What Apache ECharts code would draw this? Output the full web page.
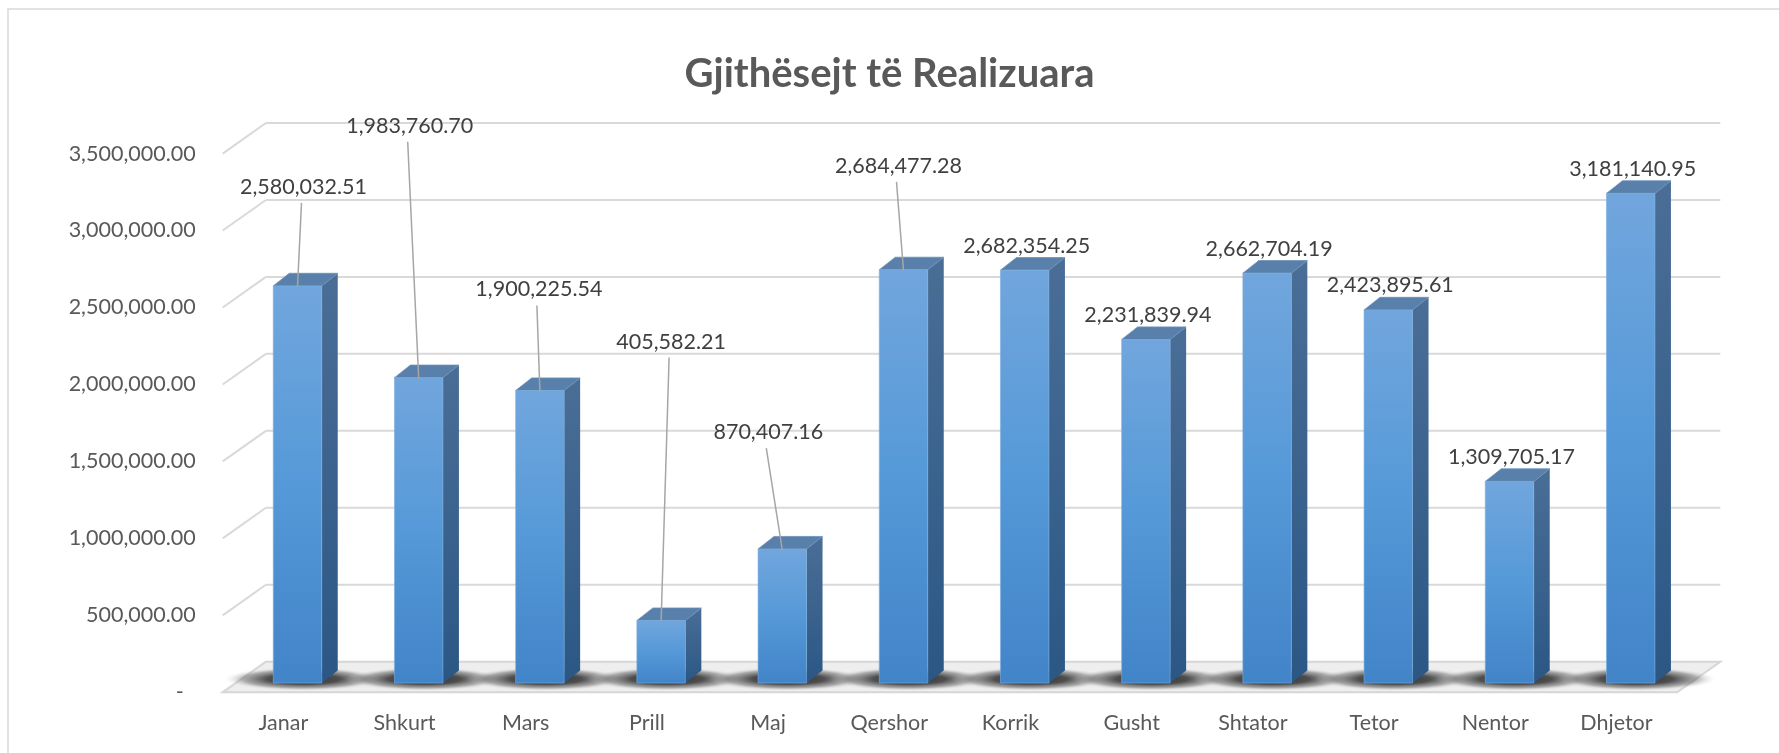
<!DOCTYPE html>
<html>
<head>
<meta charset="utf-8">
<title>Gjithësejt të Realizuara</title>
<script src="https://cdn.jsdelivr.net/npm/echarts@6/dist/echarts.min.js"></script>
<style>
html,body{margin:0;padding:0;background:#fff;}
#main{width:1779px;height:753px;}
</style>
</head>
<body>
<div id="main"></div>
<script>
// muajt
var months = ['Janar','Shkurt','Mars','Prill','Maj','Qershor','Korrik','Gusht','Shtator','Tetor','Nentor','Dhjetor'];
// vlerat e realizuara
var values = [2580032.51,1983760.70,1900225.54,405582.21,870407.16,2684477.28,2682354.25,2231839.94,2662704.19,2423895.61,1309705.17,3181140.95];
// vlerat e vijave te boshtit y
var yTicks = [0,500000,1000000,1500000,2000000,2500000,3000000,3500000];

// zhvendosja e etiketes nga maja e kolones (px), kur ka vije udhezuese
var labelShift = [[6,-99],[-9,-252],[-1,-101],[10,-279],[-14,-117],[-5,-104],null,null,null,null,null,null];
var labelDefault = [2,-24.5];

var backOff = [29,-21.3];   // muri i pasem
var frontOff = [-14.2,9.3]; // buza e para e dyshemese
var depth = [16,-12.6];     // thellesia e kolones

var FONT = 'Lato, "Open Sans", sans-serif';
var FS = 21.5;

function fmt(v){
    return v.toLocaleString('en-US',{minimumFractionDigits:2,maximumFractionDigits:2});
}

// dyshemeja, muret dhe hijet
function renderFloor(params, api){
    var cs = params.coordSys;
    var x0 = cs.x, x1 = cs.x + cs.width;
    var y0 = api.coord([0,0])[1];
    var ch = [];
    ch.push({
        type:'polygon',
        shape:{points:[
            [x0+frontOff[0], y0+frontOff[1]],
            [x1+frontOff[0], y0+frontOff[1]],
            [x1+backOff[0], y0+backOff[1]],
            [x0+backOff[0], y0+backOff[1]]
        ]},
        style:{fill:'#eeeeee', stroke:'#d6d6d6', lineWidth:2}
    });
    yTicks.forEach(function(t){
        var y = api.coord([0,t])[1];
        if(t>0){
            ch.push({type:'line', shape:{x1:x0+backOff[0], y1:y+backOff[1], x2:x1+backOff[0], y2:y+backOff[1]},
                style:{stroke:'#d9d9d9', lineWidth:2}});
        }
        ch.push({type:'line', shape:{x1:x0+frontOff[0], y1:y+frontOff[1], x2:x0+backOff[0], y2:y+backOff[1]},
            style:{stroke:'#d9d9d9', lineWidth:2}});
    });
    // hijet nen kolona
    for(var i=0;i<values.length;i++){
        var cx = api.coord([i,0])[0];
        ch.push({
            type:'circle',
            x: cx+6, y: y0-4, scaleX:1, scaleY:0.15,
            shape:{cx:0, cy:0, r:80},
            style:{fill:{type:'radial', x:0.5, y:0.5, r:0.5, colorStops:[
                {offset:0, color:'rgba(35,35,35,0.95)'},
                {offset:0.45, color:'rgba(50,50,50,0.85)'},
                {offset:0.75, color:'rgba(90,90,90,0.45)'},
                {offset:1, color:'rgba(238,238,238,0)'}
            ]}}
        });
    }
    return {type:'group', children:ch};
}

// kolonat 3D me etiketat
function renderBar(params, api){
    var i = api.value(0), v = api.value(1);
    var b = api.coord([i,0]), t = api.coord([i,v]);
    var hw = api.size([1,0])[0]*0.2;
    var L = b[0]-hw, R = b[0]+hw, yb = b[1], yt = t[1];
    var dx = depth[0], dy = depth[1];
    var ch = [];
    ch.push({type:'polygon', shape:{points:[[R,yt],[R+dx,yt+dy],[R+dx,yb+dy],[R,yb]]},
        style:{fill:{type:'linear',x:0,y:0,x2:0,y2:1,colorStops:[{offset:0,color:'#4a6e96'},{offset:1,color:'#2b5785'}]}}});
    ch.push({type:'polygon', shape:{points:[[L,yt],[L+dx,yt+dy],[R+dx,yt+dy],[R,yt]]},
        style:{fill:'#5880ab', stroke:'#6a8fb8', lineWidth:0.8}});
    ch.push({type:'rect', shape:{x:L, y:yt, width:R-L, height:yb-yt},
        style:{fill:{type:'linear',x:0,y:0,x2:0,y2:1,colorStops:[{offset:0,color:'#71a6dd'},{offset:0.5,color:'#5599d8'},{offset:1,color:'#4284c8'}]},
            stroke:'#7aaee0', lineWidth:0.6}});
    var s = labelShift[i] || labelDefault;
    var lx = b[0]+s[0], ly = yt+s[1];
    if(labelShift[i]){
        ch.push({type:'line', shape:{x1:lx-2, y1:ly+16, x2:b[0], y2:yt+1},
            style:{stroke:'#a6a6a6', lineWidth:1.5}});
    }
    ch.push({type:'text', x:lx, y:ly,
        style:{text:fmt(v), fill:'#404040', fontSize:FS, fontFamily:FONT, align:'center', verticalAlign:'middle'}});
    return {type:'group', children:ch};
}

var chart = echarts.init(document.getElementById('main'));
var option = {
    backgroundColor:'#fff',
    animation:false,
    title:{
        text:'Gjithësejt të Realizuara',
        left:'center', top:49,
        textStyle:{fontFamily:FONT, fontWeight:'bold', fontSize:40, color:'#595959'}
    },
    graphic:[{
        type:'rect', silent:true,
        shape:{x:8, y:9, width:1800, height:800},
        style:{fill:'none', stroke:'#d9d9d9', lineWidth:1.5}
    }],
    grid:[
        {left:236.9, right:87.7, top:144.3, bottom:70},
        {left:222.7, right:101.9, top:153.6, bottom:60.7}
    ],
    xAxis:[
        {type:'category', gridIndex:0, data:months, show:false},
        {type:'category', gridIndex:1, data:months,
            axisLine:{show:false}, axisTick:{show:false},
            axisLabel:{margin:20, color:'#595959', fontSize:FS, fontFamily:FONT, interval:0}}
    ],
    yAxis:[
        {type:'value', gridIndex:0, min:0, max:3500000, interval:500000, show:false},
        {type:'value', gridIndex:1, min:0, max:3500000, interval:500000,
            axisLine:{show:false}, axisTick:{show:false}, splitLine:{show:false},
            axisLabel:{margin:27, color:'#595959', fontSize:FS, fontFamily:FONT,
                formatter:function(v){ return v===0 ? '{d|-}' : fmt(v); },
                rich:{d:{color:'#595959', fontSize:FS, fontFamily:FONT, padding:[0,12,0,0]}}}}
    ],
    series:[
        {type:'custom', xAxisIndex:0, yAxisIndex:0, z:1, silent:true,
            renderItem:renderFloor, data:[[0,0]]},
        {type:'custom', xAxisIndex:0, yAxisIndex:0, z:3, silent:true,
            renderItem:renderBar,
            data:values.map(function(v,i){ return [i,v]; })}
    ]
};
chart.setOption(option);
</script>
</body>
</html>
